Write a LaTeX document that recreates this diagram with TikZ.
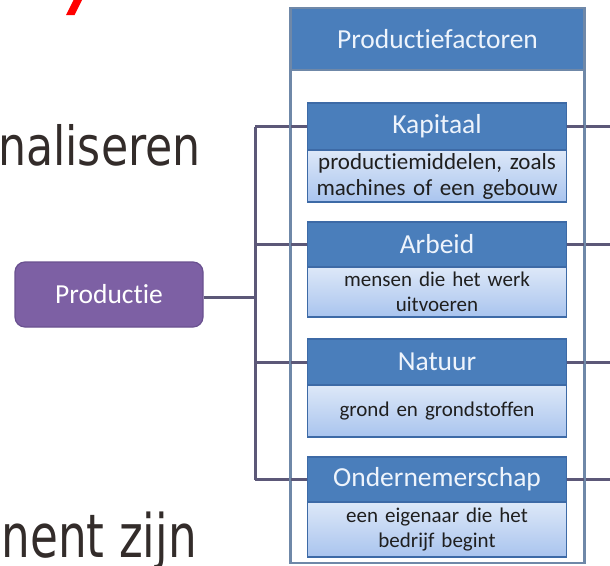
\documentclass[tikz,border=0pt]{standalone}
\usepackage{fontspec}
\usepackage{graphicx}
\setmainfont{Carlito}[Ligatures=NoCommon]
\newfontfamily\tahoma{DejaVu Sans}
\definecolor{hdrblue}{HTML}{4A7EBB}
\definecolor{hdrtext}{HTML}{EEF4FC}
\definecolor{bodytop}{HTML}{DDE8F8}
\definecolor{bodybot}{HTML}{A9C4EE}
\definecolor{boxedge}{HTML}{3D6AA6}
\definecolor{outeredge}{HTML}{6F88A8}
\definecolor{conn}{HTML}{5C5878}
\definecolor{prodfill}{HTML}{7D60A4}
\definecolor{prodedge}{HTML}{6A5190}
\definecolor{slidetext}{HTML}{332C2A}
\pgfdeclarelayer{bg}
\pgfdeclarelayer{mid}
\pgfsetlayers{bg,mid,main}
\tikzset{
  bigtext/.style={text=slidetext, font=\tahoma\fontsize{54}{60}\selectfont, inner sep=0pt},
  prodbox/.style={draw=prodedge, line width=1.2pt, fill=prodfill, rounded corners=10pt,
    minimum width=188pt, minimum height=65pt, text=white, font=\fontsize{27.5}{30}\selectfont},
  outerbox/.style={draw=outeredge, line width=2pt, fill=white, minimum width=293pt, minimum height=555pt},
  outerhdr/.style={draw=outeredge, line width=2pt, fill=hdrblue, minimum width=293pt, minimum height=62pt,
    text=hdrtext, font=\fontsize{27.5}{30}\selectfont},
  facthdr/.style={draw=boxedge, line width=1.2pt, fill=hdrblue, minimum width=259pt,
    text=hdrtext, font=\fontsize{27.5}{30}\selectfont, inner sep=0pt},
  factbody/.style={draw=boxedge, line width=1.2pt, top color=bodytop, bottom color=bodybot,
    minimum width=259pt, text width=255pt, align=center, text=black!88,
    font=\fontsize{21}{25}\selectfont, inner sep=0pt},
  connector/.style={draw=conn, line width=3pt},
  outerline/.style={draw=outeredge, line width=2pt}
}
\begin{document}
\begin{tikzpicture}[x=1pt,y=-1pt]
\useasboundingbox (0,0) rectangle (610,565);
\begin{pgfonlayer}{bg}
\fill[white] (0,0) rectangle (610,565);
\end{pgfonlayer}

% red mark at top
\fill[red] (66,15) -- (74.5,15) -- (82,0) -- (73.5,0) -- cycle;

% slide text fragments
\node[bigtext, anchor=base east] (t1) at (201,165) {\scalebox{0.82}[1]{naliseren}};
\node[bigtext, anchor=base east, font=\tahoma\fontsize{60}{66}\selectfont] (t2) at (197,557) {\scalebox{0.755}[1]{nent zijn}};

% outer box on background layer
\begin{pgfonlayer}{bg}
\node[outerbox] (pf) at (437.5,285.5) {};
\node[outerhdr] (pfh) at (437.5,39) {Productiefactoren};
\end{pgfonlayer}

% factor boxes
\node[facthdr, minimum height=47pt] (kh) at (437,126.5) {Kapitaal};
\node[facthdr, minimum height=45pt] (ah) at (437,244.5) {Arbeid};
\node[facthdr, minimum height=46pt] (nh) at (437,362) {Natuur};
\node[facthdr, minimum height=45pt] (oh) at (437,479.5) {Ondernemerschap};

\node[factbody, minimum height=52pt, font=\fontsize{23}{26}\selectfont] (kb) at (437,176) {productiemiddelen, zoals\\machines of een gebouw};
\node[factbody, minimum height=50pt] (ab) at (437,292) {mensen die het werk\\uitvoeren};
\node[factbody, minimum height=52pt] (nb) at (437,411) {grond en grondstoffen};
\node[factbody, minimum height=55pt] (ob) at (437,529.5) {een eigenaar die het\\bedrijf begint};

% Productie
\node[prodbox] (prod) at (109,294.5) {Productie};

% connector junctions
\coordinate (jtop) at (255,126.5);
\coordinate (jbot) at (255,479.5);
\coordinate (jmid) at (255,297);
\coordinate (ja) at (255,244.5);
\coordinate (jn) at (255,362);
\coordinate (rk) at (610,126.5);
\coordinate (ra) at (610,244.5);
\coordinate (rn) at (610,362);
\coordinate (ro) at (610,479.5);

\begin{pgfonlayer}{mid}
\draw[connector] (prod.east |- jmid) -- (jmid);
\draw[connector] (jtop) -- (jbot);
\draw[connector] (jtop) -- (kh.west);
\draw[connector] (ja) -- (ah.west);
\draw[connector] (jn) -- (nh.west);
\draw[connector] (jbot) -- (oh.west);
\draw[connector] (kh.east) -- (rk);
\draw[connector] (ah.east) -- (ra);
\draw[connector] (nh.east) -- (rn);
\draw[connector] (oh.east) -- (ro);
\draw[outerline] (pf.north west) -- (pf.south west);
\draw[outerline] (pf.north east) -- (pf.south east);
\end{pgfonlayer}
\end{tikzpicture}
\end{document}
